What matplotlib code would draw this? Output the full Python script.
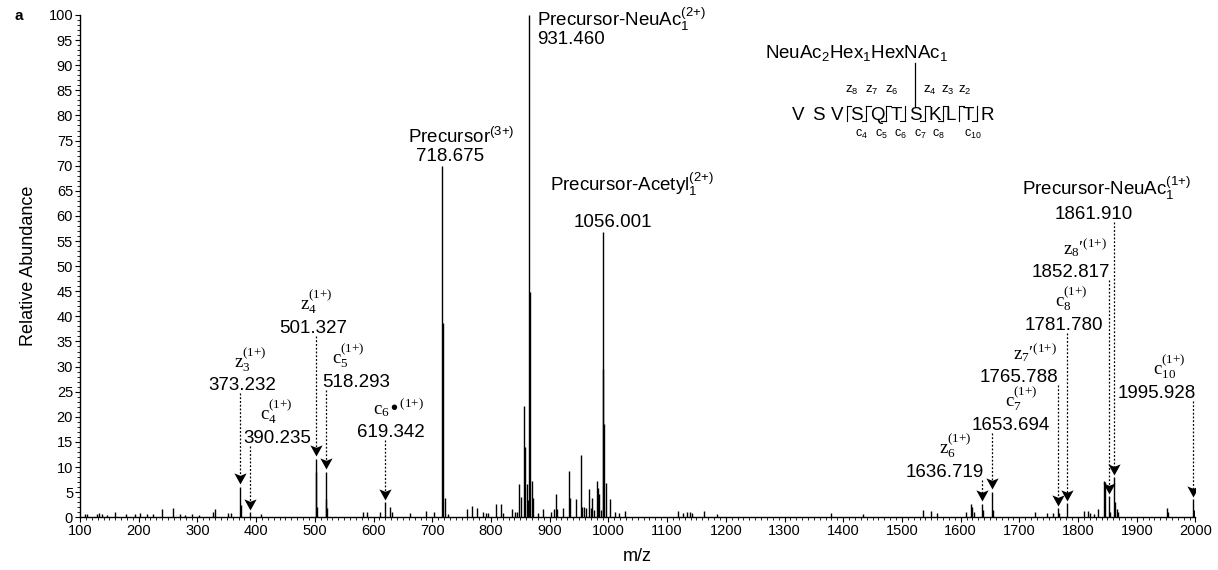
import matplotlib
matplotlib.use("Agg")
import matplotlib.pyplot as plt
from matplotlib.path import Path
from matplotlib.ticker import MultipleLocator

SANS = ["Liberation Sans", "DejaVu Sans"]
SERIF = ["Liberation Serif", "DejaVu Serif"]
plt.rcParams["font.family"] = SANS

# spectrum peaks: position on the m/z axis, relative abundance
peak_mz = [108.5, 112.5, 128.4, 132.9, 137.0, 145.5, 159.6, 178.3, 193.7, 202.2,
           213.6, 224.9, 239.2, 258.9, 270.3, 278.8, 290.2, 303.2, 327.1, 329.9,
           351.6, 357.2, 374.3, 408.3, 502.3, 503.3, 519.3, 520.3, 582.6, 588.3,
           611.0, 628.0, 630.9, 662.0, 689.3, 703.5,
           717.2, 718.9, 721.7, 727.3, 759.7, 768.5, 776.7, 785.9, 791.6, 795.5,
           808.1, 816.6, 820.0, 835.3, 840.9, 843.8, 848.3, 851.1, 856.8, 858.0,
           860.8, 863.6, 865.3, 867.0, 869.3, 872.1, 880.6, 888.0, 901.7, 907.9,
           910.7, 913.0, 923.2, 932.4, 934.6, 944.2, 953.3, 955.6, 958.5, 961.3,
           967.0, 969.8, 972.6, 975.5, 980.6, 982.8, 984.6, 987.4, 990.3, 991.4,
           993.1, 995.4, 1002.7, 1011.3, 1018.6, 1028.3,
           1118.0, 1126.5, 1134.4, 1139.0, 1141.9, 1162.9, 1185.5, 1379.1, 1433.1,
           1535.3, 1549.5, 1559.2, 1609.1, 1617.6, 1619.9, 1622.8, 1637.6, 1655.0,
           1726.7, 1746.6, 1756.8, 1767.0, 1810.1, 1817.5, 1820.4, 1827.2, 1833.5,
           1844.2, 1846.5, 1854.5, 1862.9, 1865.9, 1868.7, 1951.0, 1952.6, 1997.0]
peak_int = [0.7, 0.7, 0.7, 0.8, 0.7, 0.5, 1.0, 0.7, 0.6, 0.8,
            0.6, 0.6, 1.6, 1.8, 0.6, 0.5, 0.6, 0.5, 1.0, 1.6,
            0.8, 0.8, 2.4, 0.6, 9.0, 2.0, 3.6, 1.8, 1.0, 1.0,
            1.1, 2.0, 1.0, 0.8, 1.3, 1.1,
            70.0, 38.6, 3.8, 0.7, 1.7, 2.2, 1.9, 1.1, 0.9, 0.9,
            2.6, 2.6, 0.9, 1.6, 1.0, 1.0, 6.6, 4.0, 22.2, 14.0,
            6.6, 3.5, 100.0, 44.9, 7.3, 3.8, 0.8, 1.6, 1.0, 1.6,
            4.6, 1.6, 1.8, 9.2, 3.8, 3.6, 12.3, 2.1, 2.1, 1.8,
            5.6, 1.8, 3.8, 1.5, 7.2, 5.8, 4.6, 1.5, 56.8, 29.5,
            18.5, 6.9, 3.6, 1.0, 0.8, 1.3,
            1.3, 0.8, 1.1, 1.1, 0.8, 1.3, 0.7, 0.9, 0.7,
            1.5, 1.3, 0.8, 1.0, 2.7, 2.1, 1.0, 1.5, 1.5,
            1.0, 0.8, 0.8, 0.8, 1.3, 1.3, 0.8, 0.6, 1.6,
            7.3, 7.1, 1.0, 3.1, 1.6, 1.0, 1.8, 1.0, 1.5]

# assigned c / z fragment ions (arrow targets)
ion_names = [r"z_3^{(1{+})}", r"c_4^{(1{+})}", r"z_4^{(1{+})}", r"c_5^{(1{+})}",
             r"c_6•^{(1{+})}", r"z_6^{(1{+})}", r"c_7^{(1{+})}", r"z_7′^{(1{+})}",
             r"c_8^{(1{+})}", r"z_8′^{(1{+})}", r"c_{10}^{(1{+})}"]
ion_mz = [373.232, 390.235, 501.327, 518.293, 619.342, 1636.719, 1653.694,
          1765.788, 1781.780, 1852.817, 1995.928]
ion_int = [6.1, 1.0, 11.7, 9.1, 3.0, 2.7, 5.1, 1.8, 2.8, 4.2, 3.6]
ion_num_x = [318.0, 377.6, 439.0, 512.2, 571.8, 1506.9, 1619.3, 1633.0,
             1709.6, 1721.5, 1868.0]
ion_num_y = [25.3, 14.8, 36.7, 26.0, 16.0, 8.0, 17.4, 26.9, 37.3, 47.8, 23.8]
ion_name_x = [390.4, 434.7, 502.8, 557.3, 642.5, 1590.4, 1703.7, 1726.6,
              1788.8, 1810.9, 1954.9]

# precursor labels
prec_names = [r"Precursor$\mathregular{^{(3{+})}}$",
              r"Precursor-NeuAc$\mathregular{_1^{(2{+})}}$",
              r"Precursor-Acetyl$\mathregular{_1^{(2{+})}}$",
              r"Precursor-NeuAc$\mathregular{_1^{(1{+})}}$"]
prec_values = ["718.675", "931.460", "1056.001", "1861.910"]
prec_num_x = [672.3, 878.4, 941.4, 1760.7]
prec_num_y = [71.0, 94.2, 57.8, 59.4]
prec_name_x = [658.7, 878.4, 900.5, 1704.5]
prec_name_y = [74.6, 97.8, 64.9, 64.2]
# only the singly charged one has an arrow
arrow_mz = 1861.910
arrow_int = 8.0

# glycopeptide sketch
residues = list("VSVSQTSKLTR")
res_x = [1323.0, 1357.1, 1389.4, 1421.8, 1457.5, 1489.9, 1522.2, 1556.3,
         1583.5, 1612.5, 1644.9]
z_ions = [8, 7, 6, 4, 3, 2]
c_ions = [4, 5, 6, 7, 8, 10]
glycan = r"NeuAc$\mathregular{_2}$Hex$\mathregular{_1}$HexNAc$\mathregular{_1}$"
glyco_site = 7

fig = plt.figure(figsize=(12.18, 5.70), dpi=100)
ax = fig.add_axes([0.0657, 0.0925, 0.9158, 0.8812])

ax.vlines(peak_mz + ion_mz + [arrow_mz], 0, peak_int + ion_int + [arrow_int],
          color="black", lw=1.0)

ax.set_xlim(100, 2000)
ax.set_ylim(0, 100)
ax.xaxis.set_major_locator(MultipleLocator(100))
ax.xaxis.set_minor_locator(MultipleLocator(10))
ax.yaxis.set_major_locator(MultipleLocator(5))
ax.yaxis.set_minor_locator(MultipleLocator(1))
ax.tick_params(which="major", direction="out", length=3.5, width=0.8,
               labelsize=10.5, pad=1.5)
ax.tick_params(which="minor", direction="out", length=2, width=0.6)
for side in ("top", "right"):
    ax.spines[side].set_visible(False)
for side in ("left", "bottom"):
    ax.spines[side].set_linewidth(1.0)
ax.set_xlabel("m/z", fontsize=13, labelpad=7)
ax.set_ylabel("Relative Abundance", fontsize=13, labelpad=8)

fig.text(0.012, 0.972, "a", fontsize=11, weight="bold", va="center")

head = Path([(0, 0), (-0.55, 1.0), (0, 0.78), (0.55, 1.0), (0, 0)],
            [Path.MOVETO, Path.LINETO, Path.LINETO, Path.LINETO, Path.CLOSEPOLY])


def arrow(x, top, tip):
    ax.plot([x, x], [top, tip + 1.2], color="black", lw=0.9,
            ls=(0, (1.5, 1.5)))
    ax.plot([x], [tip], marker=head, ms=16, color="black", mec="black",
            mew=0)


for name, mz, h, nx, ny, tx in zip(ion_names, ion_mz, ion_int, ion_num_x,
                                   ion_num_y, ion_name_x):
    ax.text(nx, ny, f"{mz:.3f}", fontsize=13.5, ha="left", va="baseline")
    ax.text(tx, ny + 4.6, r"$\mathregular{" + name + "}$", family=SERIF,
            fontsize=13.5, ha="center", va="baseline")
    arrow(mz, ny - 0.6, h + 0.5)

for name, val, nx, ny, tx, ty in zip(prec_names, prec_values, prec_num_x,
                                     prec_num_y, prec_name_x, prec_name_y):
    ax.text(nx, ny, val, fontsize=13.5, ha="left", va="baseline")
    ax.text(tx, ty, name, fontsize=13.5, ha="left", va="baseline")
arrow(arrow_mz, prec_num_y[-1] - 0.6, arrow_int + 0.5)

# peptide with c/z cleavage marks
for r, x in zip(residues, res_x):
    ax.text(x, 79.1, r, fontsize=13.5, ha="center", va="baseline")
ax.text(1266.8, 91.4, glycan, fontsize=13.5, ha="left", va="baseline")
ax.plot([res_x[glyco_site - 1]] * 2, [90.4, 81.6], color="black", lw=0.9)

n = len(residues)
for k in range(1, n):
    gx = (res_x[k - 1] + res_x[k]) / 2
    zn = n - k
    has_z = zn in z_ions
    has_c = k in c_ions
    if not (has_z or has_c):
        continue
    ax.plot([gx, gx], [78.9, 81.9], color="black", lw=0.8)
    if has_z:
        ax.plot([gx, gx + 8.5], [81.9, 81.9], color="black", lw=0.8)
        ax.text(gx + 8.5, 84.4, r"$\mathregular{z_{%d}}$" % zn, fontsize=9.5,
                ha="center", va="baseline")
    if has_c:
        ax.plot([gx - 8.5, gx], [78.9, 78.9], color="black", lw=0.8)
        ax.text(gx - 8.5, 75.7, r"$\mathregular{c_{%d}}$" % k, fontsize=9,
                ha="center", va="baseline")

fig.savefig("out.png", dpi=100)
